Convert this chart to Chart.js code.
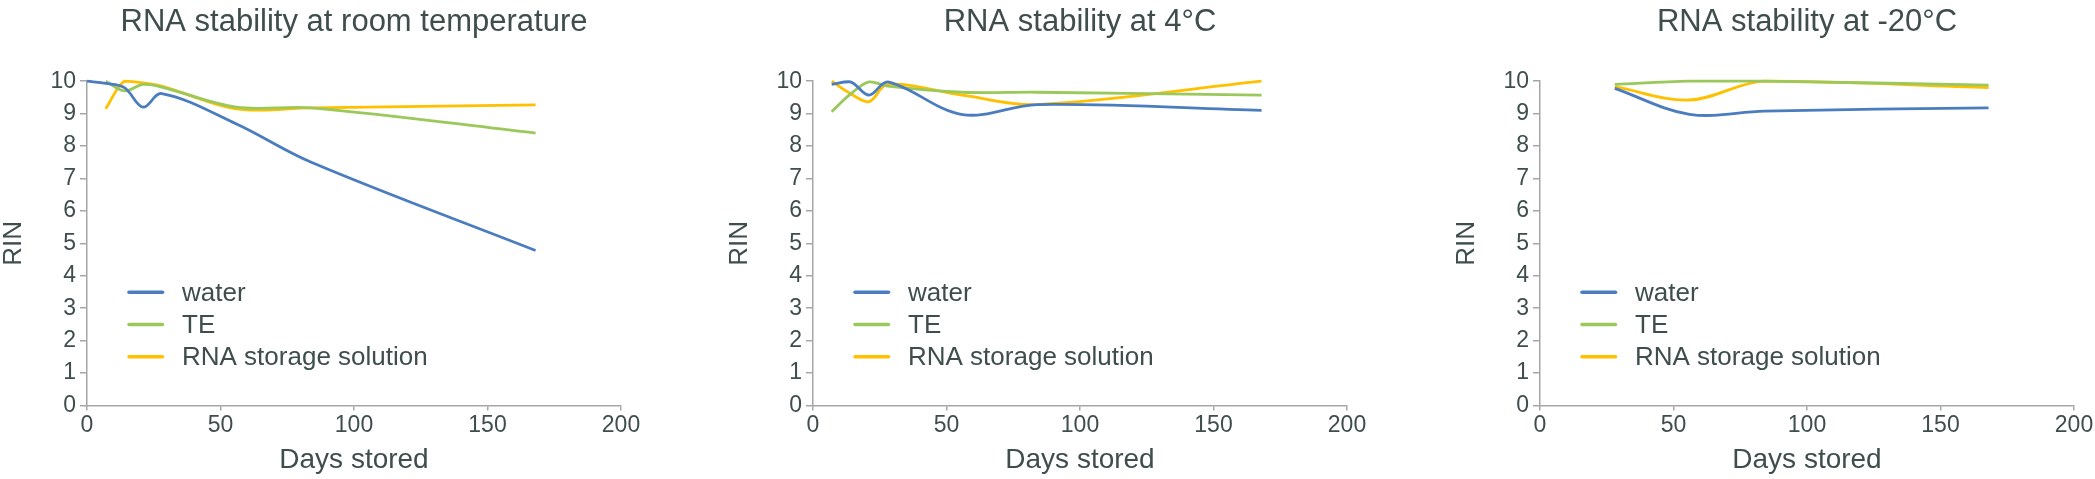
<!DOCTYPE html>
<html>
<head>
<meta charset="utf-8">
<script src="https://cdn.jsdelivr.net/npm/chart.js@4.4.0/dist/chart.umd.min.js"></script>
<style>
  html, body { margin: 0; padding: 0; background: #fff; overflow: hidden; width: 2095px; height: 479px; }
  .panel { position: absolute; top: 0; width: 651px; height: 479px; }
</style>
</head>
<body>
<div class="panel" style="left:0px"><canvas id="room"></canvas></div>
<div class="panel" style="left:726px"><canvas id="fridge"></canvas></div>
<div class="panel" style="left:1453px"><canvas id="freezer"></canvas></div>
<script>
// series
const seriesNames = ['water', 'TE', 'RNA storage solution'];
const seriesColors = ['#4a7cc0', '#9bc85a', '#ffc000'];

// room temperature
const roomWaterDays = [0, 7, 14, 21, 28, 56, 84, 168];
const roomWater = [10.0, 9.93, 9.8, 9.2, 9.62, 8.68, 7.5, 4.78];
const roomDays = [7, 14, 21, 28, 56, 84, 168];
const roomTE = [10.0, 9.7, 9.9, 9.82, 9.2, 9.18, 8.4];
const roomRNA = [9.15, 10.0, 9.95, 9.85, 9.15, 9.18, 9.27];

// 4 C
const fridgeDays = [7, 14, 21, 28, 56, 84, 168];
const fridgeWater = [9.9, 9.98, 9.57, 9.98, 8.97, 9.28, 9.1];
const fridgeTE = [9.06, 9.6, 9.98, 9.85, 9.66, 9.66, 9.57];
const fridgeRNA = [10.0, 9.62, 9.37, 9.9, 9.57, 9.28, 10.0];

// -20 C
const freezerDays = [28, 56, 84, 168];
const freezerWater = [9.78, 8.98, 9.08, 9.18];
const freezerTE = [9.9, 10.0, 10.0, 9.88];
const freezerRNA = [9.83, 9.42, 10.0, 9.8];

const titles = ['RNA stability at room temperature', 'RNA stability at 4°C', 'RNA stability at -20°C'];
const xTitle = 'Days stored';
const yTitle = 'RIN';

const FONT = "'Liberation Sans', Arial, sans-serif";
const TEXT = '#3f4d4d';
const AXIS = '#a6a6a6';

// legend drawn inside the plot, lower left
const insideLegend = {
  id: 'insideLegend',
  afterDraw(chart) {
    const { ctx, chartArea } = chart;
    chart.data.datasets.forEach((ds, i) => {
      const y = chartArea.top + 211 + i * 32.3;
      ctx.save();
      ctx.strokeStyle = ds.borderColor;
      ctx.lineWidth = 3.5;
      ctx.lineCap = 'round';
      ctx.beginPath();
      ctx.moveTo(chartArea.left + 42, y);
      ctx.lineTo(chartArea.left + 75.5, y);
      ctx.stroke();
      ctx.fillStyle = TEXT;
      ctx.font = '26px ' + FONT;
      ctx.textBaseline = 'alphabetic';
      ctx.fillText(ds.label, chartArea.left + 95, y + 8.5);
      ctx.restore();
    });
  }
};

function series(i, days, vals) {
  return {
    label: seriesNames[i],
    data: days.map((d, j) => ({ x: d, y: vals[j] })),
    borderColor: seriesColors[i],
    backgroundColor: seriesColors[i],
    borderWidth: 2.8,
    pointRadius: 0,
    tension: 0.35,
    fill: false,
    clip: 6
  };
}

function makeChart(id, title, datasets) {
  return new Chart(document.getElementById(id), {
    type: 'line',
    data: { datasets: datasets },
    options: {
      responsive: true,
      maintainAspectRatio: false,
      animation: false,
      layout: { padding: { top: 0, right: 30, bottom: 0, left: 0 } },
      plugins: {
        legend: { display: false },
        tooltip: { enabled: false },
        title: {
          display: true,
          text: title,
          fullSize: false,
          color: TEXT,
          font: { family: FONT, size: 31, weight: 'normal' },
          padding: { top: 4, bottom: 40 }
        }
      },
      scales: {
        x: {
          type: 'linear',
          min: 0,
          max: 200,
          ticks: { stepSize: 50, color: TEXT, font: { family: FONT, size: 23 }, padding: 1, maxRotation: 0 },
          grid: { drawOnChartArea: false, tickLength: 5, color: AXIS, lineWidth: 1.5 },
          border: { color: AXIS, width: 1.5 },
          title: { display: true, text: xTitle, color: TEXT, font: { family: FONT, size: 28 }, padding: { top: 0, bottom: 2 } },
          afterFit(s) { s.height = 73.5; }
        },
        y: {
          min: 0,
          max: 10,
          ticks: { stepSize: 1, color: TEXT, font: { family: FONT, size: 23 }, padding: 4 },
          grid: { drawOnChartArea: false, tickLength: 7, color: AXIS, lineWidth: 1.5 },
          border: { color: AXIS, width: 1.5 },
          title: { display: true, text: yTitle, color: TEXT, font: { family: FONT, size: 26, lineHeight: 1.05 }, padding: { top: 0, bottom: 0 } },
          afterFit(s) { s.width = 87; }
        }
      }
    },
    plugins: [insideLegend]
  });
}

makeChart('room', titles[0], [
  series(0, roomWaterDays, roomWater),
  series(1, roomDays, roomTE),
  series(2, roomDays, roomRNA)
]);
makeChart('fridge', titles[1], [
  series(0, fridgeDays, fridgeWater),
  series(1, fridgeDays, fridgeTE),
  series(2, fridgeDays, fridgeRNA)
]);
makeChart('freezer', titles[2], [
  series(0, freezerDays, freezerWater),
  series(1, freezerDays, freezerTE),
  series(2, freezerDays, freezerRNA)
]);
</script>
</body>
</html>
